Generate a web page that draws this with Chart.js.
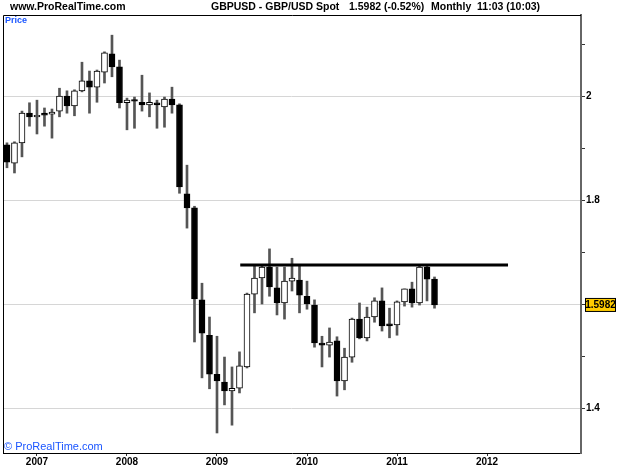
<!DOCTYPE html>
<html>
<head>
<meta charset="utf-8">
<script src="https://cdn.jsdelivr.net/npm/chart.js@4.4.0/dist/chart.umd.min.js"></script>
<style>
  html, body { margin: 0; padding: 0; background: #fff; }
  #wrap { position: relative; width: 625px; height: 469px; }
</style>
</head>
<body>
<div id="wrap"><canvas id="chart" width="625" height="469"></canvas></div>
<script>
// monthly candles, Sep 2006 .. Jun 2011
const opens  = [1.906,1.871,1.910,1.967,1.960,1.967,1.965,1.971,2.000,1.981,2.010,2.029,2.017,2.046,2.081,2.056,
                1.987,1.993,1.988,1.983,1.987,1.979,1.994,1.983,1.812,1.785,1.608,1.540,1.465,1.450,1.433,1.438,
                1.479,1.619,1.650,1.671,1.631,1.602,1.644,1.646,1.615,1.598,1.525,1.521,1.529,1.452,1.498,1.571,
                1.535,1.575,1.606,1.562,1.560,1.604,1.629,1.602,1.671,1.648];
const highs  = [1.910,1.912,1.971,1.987,1.992,1.977,1.975,2.015,2.010,2.012,2.065,2.048,2.050,2.085,2.117,2.069,
                1.996,1.998,2.040,2.006,1.992,1.998,2.017,1.985,1.867,1.788,1.640,1.575,1.538,1.498,1.479,1.508,
                1.621,1.673,1.673,1.706,1.671,1.671,1.688,1.673,1.644,1.608,1.538,1.554,1.537,1.515,1.573,1.602,
                1.594,1.612,1.631,1.592,1.606,1.629,1.642,1.675,1.675,1.652];
const lows   = [1.862,1.852,1.883,1.942,1.927,1.942,1.919,1.960,1.967,1.962,2.008,1.967,1.988,2.025,2.037,1.977,
                1.935,1.938,1.971,1.960,1.938,1.940,1.967,1.813,1.746,1.527,1.458,1.437,1.352,1.406,1.367,1.429,
                1.477,1.583,1.600,1.615,1.579,1.571,1.625,1.583,1.590,1.517,1.479,1.498,1.423,1.435,1.488,1.533,
                1.529,1.565,1.548,1.535,1.540,1.596,1.594,1.598,1.606,1.592];
const closes = [1.873,1.910,1.967,1.960,1.963,1.963,1.969,2.000,1.981,2.010,2.029,2.017,2.048,2.083,2.056,1.987,
                1.992,1.990,1.983,1.988,1.983,1.994,1.983,1.825,1.785,1.610,1.544,1.465,1.452,1.433,1.438,1.481,
                1.619,1.650,1.671,1.633,1.602,1.644,1.650,1.617,1.600,1.525,1.521,1.527,1.452,1.498,1.571,1.535,
                1.575,1.606,1.558,1.558,1.604,1.629,1.602,1.671,1.648,1.5982];

// x axis: month index 0 = Sep 2006
const yearLabels = ['2007', '2008', '2009', '2010', '2011', '2012'];
const yearTickIdx = [4, 16, 28, 40, 52, 64];
// y axis
const yTicks = [1.4, 1.5, 1.6, 1.7, 1.8, 1.9, 2.0, 2.1];
const yLabelled = [1.4, 1.8, 2.0];
const yGrid = [1.4, 1.6, 1.8, 2.0];
// resistance line
const resistanceLevel = 1.675;
const resistanceFrom = 31.1;
const resistanceTo = 66.8;
const lastPrice = '1.5982';

const font = 'Liberation Sans, Arial, sans-serif';

const wicks = highs.map((h, i) => ({ x: i, y: [lows[i], h] }));
const bodies = opens.map((o, i) => ({ x: i, y: [o, closes[i]] }));
const bodyFill = opens.map((o, i) => closes[i] >= o ? '#ffffff' : '#000000');

const decor = {
  id: 'decor',
  afterDatasetsDraw(chart) {
    const c = chart.ctx;
    const a = chart.chartArea;
    c.save();
    // frame
    c.strokeStyle = '#000';
    c.lineWidth = 1;
    c.beginPath();
    c.moveTo(a.right, a.top + 0.5);
    c.lineTo(a.left + 0.5, a.top + 0.5);
    c.lineTo(a.left + 0.5, a.bottom);
    c.stroke();

    // header
    c.fillStyle = '#000';
    c.textBaseline = 'middle';
    c.font = 'bold 10.5px ' + font;
    c.fillText('www.ProRealTime.com', 10, 7);
    c.fillText('GBPUSD - GBP/USD Spot', 211, 7);
    c.fillText('1.5982 (-0.52%)', 349, 7);
    c.fillText('Monthly  11:03 (10:03)', 431, 7);

    c.fillStyle = '#1a55ff';
    c.font = 'bold 9px ' + font;
    c.fillText('Price', 5, 21);
    c.font = '11px ' + font;
    c.fillText('\u00a9 ProRealTime.com', 4, 447);

    // last price box
    const y = chart.scales.y.getPixelForValue(parseFloat(lastPrice));
    c.fillStyle = '#ffcc00';
    c.fillRect(585.5, y - 6.5, 30, 13);
    c.strokeStyle = '#000';
    c.strokeRect(585.5, y - 6.5, 30, 13);
    c.fillStyle = '#000';
    c.font = 'bold 10px ' + font;
    c.textAlign = 'center';
    c.fillText(lastPrice, 600.5, y + 0.5);
    c.restore();
  }
};

new Chart(document.getElementById('chart'), {
  type: 'bar',
  data: {
    datasets: [
      {
        type: 'line',
        data: [{ x: resistanceFrom, y: resistanceLevel }, { x: resistanceTo, y: resistanceLevel }],
        borderColor: '#000',
        borderWidth: 3,
        pointRadius: 0,
        order: 0
      },
      {
        data: bodies,
        backgroundColor: bodyFill,
        borderColor: '#000',
        borderWidth: 1,
        borderSkipped: false,
        barThickness: 6,
        grouped: false,
        order: 1
      },
      {
        data: wicks,
        backgroundColor: '#555555',
        borderWidth: 0,
        barThickness: 2,
        grouped: false,
        order: 2
      }
    ]
  },
  options: {
    responsive: false,
    animation: false,
    layout: { padding: { top: 15, left: 3 } },
    plugins: { legend: { display: false }, tooltip: { enabled: false } },
    scales: {
      x: {
        type: 'linear',
        offset: false,
        min: -0.53,
        max: 76.53,
        afterBuildTicks: s => { s.ticks = yearTickIdx.map(v => ({ value: v })); },
        afterFit: s => { s.height = 16; },
        ticks: {
          callback: (v) => yearLabels[yearTickIdx.indexOf(v)],
          color: '#000',
          font: { family: font, size: 10, weight: 'bold' },
          padding: 0,
          maxRotation: 0,
          autoSkip: false
        },
        grid: { offset: false, drawOnChartArea: false, tickLength: 3, tickColor: '#333' },
        border: { color: '#000', width: 1 }
      },
      y: {
        position: 'right',
        min: 1.3135,
        max: 2.1558,
        afterBuildTicks: s => { s.ticks = yTicks.map(v => ({ value: v })); },
        afterFit: s => { s.width = 44; },
        ticks: {
          callback: v => yLabelled.some(t => Math.abs(t - v) < 1e-6) ? String(+v.toFixed(1)) : '',
          color: '#000',
          font: { family: font, size: 10, weight: 'bold' },
          padding: 1
        },
        grid: {
          color: c => yGrid.some(t => Math.abs(t - c.tick.value) < 1e-6) ? '#d6d6d6' : 'rgba(0,0,0,0)',
          tickColor: '#333',
          tickLength: 4
        },
        border: { color: '#666', width: 2 }
      }
    }
  },
  plugins: [decor]
});
</script>
</body>
</html>
